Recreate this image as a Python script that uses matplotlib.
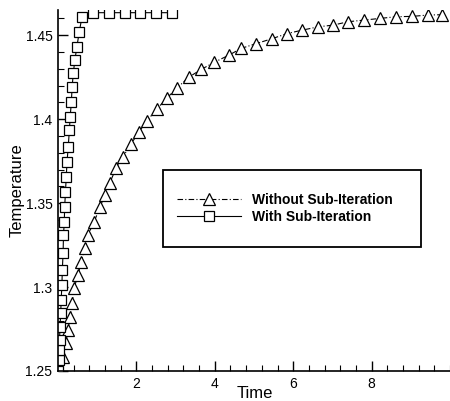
import matplotlib
matplotlib.use("Agg")
import matplotlib.pyplot as plt
from matplotlib.patches import Rectangle
from matplotlib.ticker import MultipleLocator

plt.rcParams['font.family'] = ['Liberation Sans', 'DejaVu Sans']

# Without Sub-Iteration (triangles)
t_without = [0.0, 0.13, 0.20, 0.25, 0.31, 0.36, 0.41, 0.51, 0.59, 0.69, 0.76, 0.92,
             1.07, 1.20, 1.32, 1.48, 1.65, 1.86, 2.06, 2.26, 2.52, 2.77, 3.03,
             3.33, 3.66, 3.99, 4.35, 4.68, 5.06, 5.47, 5.85, 6.23, 6.64, 7.02,
             7.40, 7.81, 8.22, 8.63, 9.03, 9.44, 9.80]
temp_without = [1.250, 1.2583, 1.2667, 1.2744, 1.2821, 1.2905, 1.2994, 1.3071,
                1.3149, 1.3232, 1.3309, 1.3387, 1.3476, 1.3547, 1.3619, 1.3708,
                1.3773, 1.3851, 1.3922, 1.3988, 1.4059, 1.4124, 1.4184, 1.4249,
                1.4297, 1.4339, 1.4380, 1.4422, 1.4450, 1.4480, 1.4510, 1.4530,
                1.4550, 1.4560, 1.4580, 1.4590, 1.4600, 1.4610, 1.4612, 1.4620,
                1.4622]

# With Sub-Iteration (squares)
t_with = [0.0, 0.02, 0.03, 0.04, 0.05, 0.07, 0.08, 0.10, 0.11, 0.13, 0.14, 0.16,
          0.17, 0.19, 0.21, 0.23, 0.26, 0.29, 0.31, 0.34, 0.36, 0.39, 0.43, 0.48,
          0.54, 0.61, 0.89, 1.30, 1.70, 2.10, 2.50, 2.90]
temp_with = [1.250, 1.2565, 1.2625, 1.2685, 1.2762, 1.2845, 1.2922, 1.3012,
             1.3101, 1.3202, 1.3309, 1.3387, 1.3476, 1.3565, 1.3654, 1.3744,
             1.3833, 1.3934, 1.4011, 1.4101, 1.4190, 1.4273, 1.4351, 1.4428,
             1.4517, 1.4606, 1.4634, 1.4634, 1.4634, 1.4634, 1.4634, 1.4634]

fig = plt.figure(figsize=(4.5, 4.01), dpi=100)
ax = fig.add_axes([58 / 450, 30 / 401, 392 / 450, 361 / 401])

ax.plot(t_without, temp_without, color='black', lw=0.8, dashes=[5, 2, 1, 2],
        marker='^', ms=8.5, mfc='white', mec='black', mew=0.9,
        label='Without Sub-Iteration')
ax.plot(t_with, temp_with, color='black', lw=0.8, linestyle='-',
        marker='s', ms=7.5, mfc='white', mec='black', mew=0.9,
        label='With Sub-Iteration')

ax.set_xlim(0, 10)
ax.set_ylim(1.25, 1.465)
ax.spines['top'].set_visible(False)
ax.spines['right'].set_visible(False)
ax.spines['left'].set_linewidth(1.2)
ax.spines['bottom'].set_linewidth(1.2)

ax.xaxis.set_major_locator(MultipleLocator(2))
ax.xaxis.set_minor_locator(MultipleLocator(0.4))
ax.yaxis.set_major_locator(MultipleLocator(0.05))
ax.yaxis.set_minor_locator(MultipleLocator(0.01))
ax.tick_params(which='major', direction='in', length=7, width=1, labelsize=10, pad=4)
ax.tick_params(which='minor', direction='in', length=4, width=0.8)
ax.set_xticks([2, 4, 6, 8])
ax.set_yticks([1.25, 1.3, 1.35, 1.4, 1.45])
ax.set_yticklabels(['1.25', '1.3', '1.35', '1.4', '1.45'])

# axis titles placed by hand, they sit close to the figure edges
fig.text(255 / 450, 1 - 393 / 401, 'Time', fontsize=12, ha='center', va='center')
fig.text(17 / 450, 1 - 190 / 401, 'Temperature', fontsize=12, rotation=90,
         ha='center', va='center')

# legend box
ax.add_patch(Rectangle((0.268, 0.343), 0.658, 0.214, transform=ax.transAxes,
                       fill=False, edgecolor='black', lw=1.3, zorder=5))
leg = ax.legend(loc='center', bbox_to_anchor=(0.58, 0.45), frameon=False,
                prop={'weight': 'bold', 'size': 10}, handlelength=4.6,
                handletextpad=0.8, labelspacing=0.25)

fig.savefig('out.png', dpi=100, facecolor='white')
